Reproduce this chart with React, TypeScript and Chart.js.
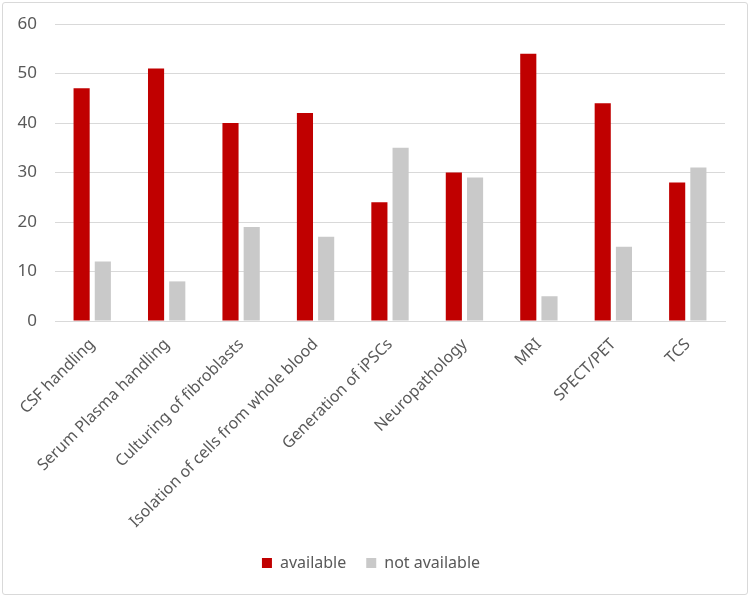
import React, { useEffect, useRef } from "react";
import { Chart, registerables } from "chart.js";

Chart.register(...registerables);

const categories = [
  "CSF handling",
  "Serum Plasma handling",
  "Culturing of fibroblasts",
  "Isolation of cells from whole blood",
  "Generation of iPSCs",
  "Neuropathology",
  "MRI",
  "SPECT/PET",
  "TCS",
];
const availableValues = [47, 51, 40, 42, 24, 30, 54, 44, 28];
const notAvailableValues = [12, 8, 19, 17, 35, 29, 5, 15, 31];
const seriesNames = ["available", "not available"];

export default function App() {
  const ref = useRef<HTMLCanvasElement | null>(null);
  useEffect(() => {
    document.body.style.margin = "0";
    if (!ref.current) return;
    const chart = new Chart(ref.current, {
      type: "bar",
      data: {
        labels: categories,
        datasets: [
          {
            label: seriesNames[0],
            data: availableValues,
            backgroundColor: "#C00000",
            categoryPercentage: 0.57,
            barPercentage: 0.76,
          },
          {
            label: seriesNames[1],
            data: notAvailableValues,
            backgroundColor: "#C9C9C9",
            categoryPercentage: 0.57,
            barPercentage: 0.76,
          },
        ],
      },
      options: {
        animation: false,
        responsive: false,
        maintainAspectRatio: false,
        layout: { padding: { left: 14, right: 22, top: 21, bottom: 13 } },
        plugins: {
          legend: {
            position: "bottom",
            labels: {
              boxWidth: 10,
              boxHeight: 10,
              color: "#595959",
              font: { family: "Noto Sans", size: 16 },
              padding: 20,
            },
          },
          tooltip: { enabled: false },
        },
        scales: {
          x: {
            grid: { display: false, drawTicks: false },
            border: { color: "#D9D9D9", width: 1 },
            ticks: {
              color: "#595959",
              font: { family: "Noto Sans", size: 16 },
              minRotation: 45,
              maxRotation: 45,
              padding: 14,
            },
            afterFit: (scale: any) => {
              scale.height = 214;
              scale.paddingLeft = 0;
              scale.paddingRight = 0;
            },
          },
          y: {
            min: 0,
            max: 60,
            grid: { color: "#D9D9D9", drawTicks: false },
            border: { display: false },
            ticks: {
              stepSize: 10,
              color: "#595959",
              font: { family: "Noto Sans", size: 17 },
              padding: 18,
            },
            afterFit: (scale: any) => {
              scale.width = 38;
              scale.paddingTop = 0;
              scale.paddingBottom = 0;
            },
          },
        },
      },
    });
    return () => chart.destroy();
  }, []);
  return (
    <div
      style={{
        width: 750,
        height: 597,
        position: "relative",
        background: "#fff",
      }}
    >
      <div
        style={{
          position: "absolute",
          left: 2,
          top: 2,
          width: 744,
          height: 591,
          border: "1px solid #D9D9D9",
          borderRadius: 3,
        }}
      >
        <canvas ref={ref} width={744} height={591} />
      </div>
    </div>
  );
}
